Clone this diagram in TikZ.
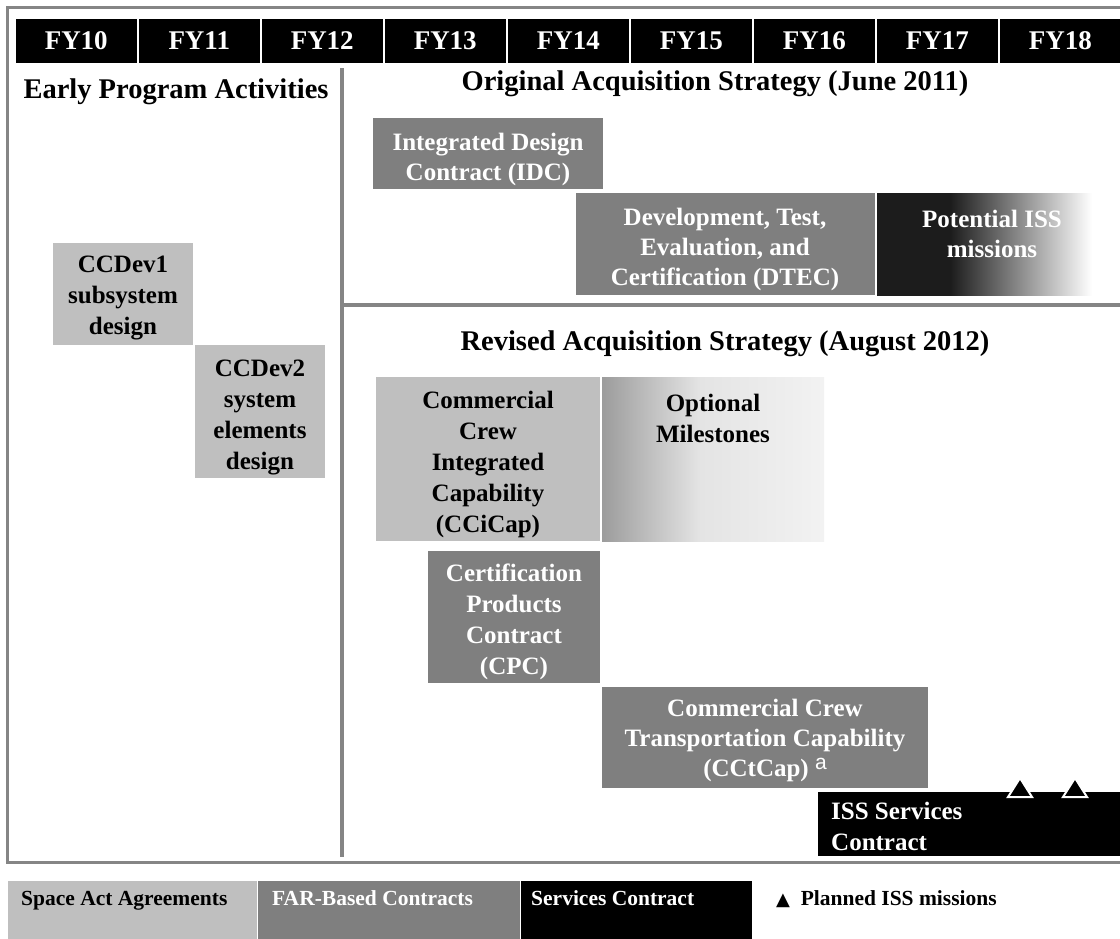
\documentclass[tikz,border=0pt]{standalone}
\usepackage{fontspec}
\setmainfont{Liberation Serif}
\newfontfamily\symfont{DejaVu Sans}
\newfontfamily\supfont{Liberation Sans}
\definecolor{lg}{HTML}{BFBFBF}
\definecolor{mg}{HTML}{7F7F7F}
\definecolor{framec}{HTML}{858585}
\definecolor{dk}{HTML}{1C1C1C}
\definecolor{optl}{HTML}{9C9C9C}
\definecolor{optm}{HTML}{E4E4E4}
\definecolor{optr}{HTML}{F2F2F2}
\pgfdeclarehorizontalshading{issfade}{100bp}{color(0bp)=(dk); color(25bp)=(dk); color(42bp)=(dk); color(75bp)=(white); color(100bp)=(white)}
\pgfdeclarehorizontalshading{optfade}{100bp}{color(0bp)=(optl); color(25bp)=(optl); color(47bp)=(optm); color(75bp)=(optr); color(100bp)=(optr)}
\begin{document}
\begin{tikzpicture}[x=1pt,y=-1pt,
  fycell/.style={fill=black,draw=white,line width=1.5pt,minimum width=123pt,minimum height=46pt,
    anchor=north west,inner sep=0pt,text=white,font=\fontsize{27}{30}\selectfont\bfseries},
  titletext/.style={font=\fontsize{28.5}{32}\selectfont\bfseries,anchor=base,inner sep=0pt},
  boxtext/.style={font=\fontsize{25}{31}\selectfont\bfseries,align=center,inner sep=0pt},
  boxtextw/.style={boxtext,text=white},
  legtext/.style={font=\fontsize{21.5}{24}\selectfont\bfseries,anchor=base west,inner sep=0pt},
  divider/.style={framec,line width=4pt},
  mission/.style={draw=white,fill=black,line width=2pt,line join=miter}
]
\useasboundingbox (0,0) rectangle (1120,938);
\fill[white] (0,0) rectangle (1120,938);

% outer frame
\draw[framec,line width=3pt] (7,7) rectangle (1135,862);

% header
\foreach \i/\lab in {0/FY10,1/FY11,2/FY12,3/FY13,4/FY14,5/FY15,6/FY16,7/FY17,8/FY18}
  \node[fycell] (fy\i) at ({14+123*\i},17) {\lab};

% dividers
\coordinate (vtop) at (342,68);
\coordinate (vbot) at (342,857);
\coordinate (hleft) at (342,305);
\coordinate (hright) at (1135,305);
\draw[divider] (vtop) -- (vbot);
\draw[divider] (hleft) -- (hright);

% titles
\node[titletext] (early) at (176,98) {Early Program Activities};
\node[titletext] (orig) at (715,90) {Original Acquisition Strategy (June 2011)};
\node[titletext] (rev) at (725,350) {Revised Acquisition Strategy (August 2012)};

% early program activities
\fill[lg] (53,243) rectangle (193,345);
\node[boxtext] (ccdev1) at (123,298) {CCDev1\\subsystem\\design};
\fill[lg] (195,345) rectangle (325,478);
\node[boxtext] (ccdev2) at (260,417) {CCDev2\\system\\elements\\design};

% original strategy
\fill[mg] (373,118) rectangle (603,189);
\node[boxtextw,font=\fontsize{25}{30}\selectfont\bfseries] (idc) at (488,159) {Integrated Design\\Contract (IDC)};
\fill[mg] (576,193) rectangle (875,295);
\node[boxtextw,font=\fontsize{25}{30}\selectfont\bfseries] (dtec) at (725,249) {Development, Test,\\Evaluation, and\\Certification (DTEC)};
\shade[shading=issfade] (877,193) rectangle (1092,295);
\node[boxtextw,font=\fontsize{25}{30}\selectfont\bfseries] (iss) at (992,234) {Potential ISS\\missions};

% revised strategy
\fill[lg] (376,377) rectangle (600,541);
\node[boxtext] (ccicap) at (488,464) {Commercial\\Crew\\Integrated\\Capability\\(CCiCap)};
\shade[shading=optfade] (602,377) rectangle (824,541);
\node[boxtext] (opt) at (713,418) {Optional\\Milestones};
\fill[mg] (428,551) rectangle (600,683);
\node[boxtextw] (cpc) at (514,622) {Certification\\Products\\Contract\\(CPC)};
\fill[mg] (602,687) rectangle (928,788);
\node[boxtextw,font=\fontsize{25}{30}\selectfont\bfseries] (cctcap) at (765,740) {Commercial Crew\\Transportation Capability\\(CCtCap) {\supfont\mdseries\fontsize{21}{21}\selectfont\raisebox{7pt}{a}}};
\fill[black] (818,792) rectangle (1135,856);
\node[boxtextw,align=left,anchor=west] (isssvc) at (831,826) {ISS Services\\Contract};
\draw[mission] (1008,797) -- (1020,778) -- (1032,797) -- cycle;
\draw[mission] (1063,797) -- (1075,778) -- (1087,797) -- cycle;

% legend
\fill[lg] (8,881) rectangle (257,945);
\fill[mg] (257,881) rectangle (520,945);
\fill[black] (520,881) rectangle (752,945);
\draw[white,line width=1pt] (257,881) -- (257,945);
\draw[white,line width=1pt] (520,881) -- (520,945);
\node[legtext] (lsaa) at (21,905) {Space Act Agreements};
\node[legtext,text=white] (lfar) at (272,905) {FAR-Based Contracts};
\node[legtext,text=white] (lsvc) at (531,905) {Services Contract};
\node[legtext] (lplan) at (776,905) {{\symfont\fontsize{18}{18}\selectfont ▲}\ \ Planned ISS missions};
\end{tikzpicture}
\end{document}
